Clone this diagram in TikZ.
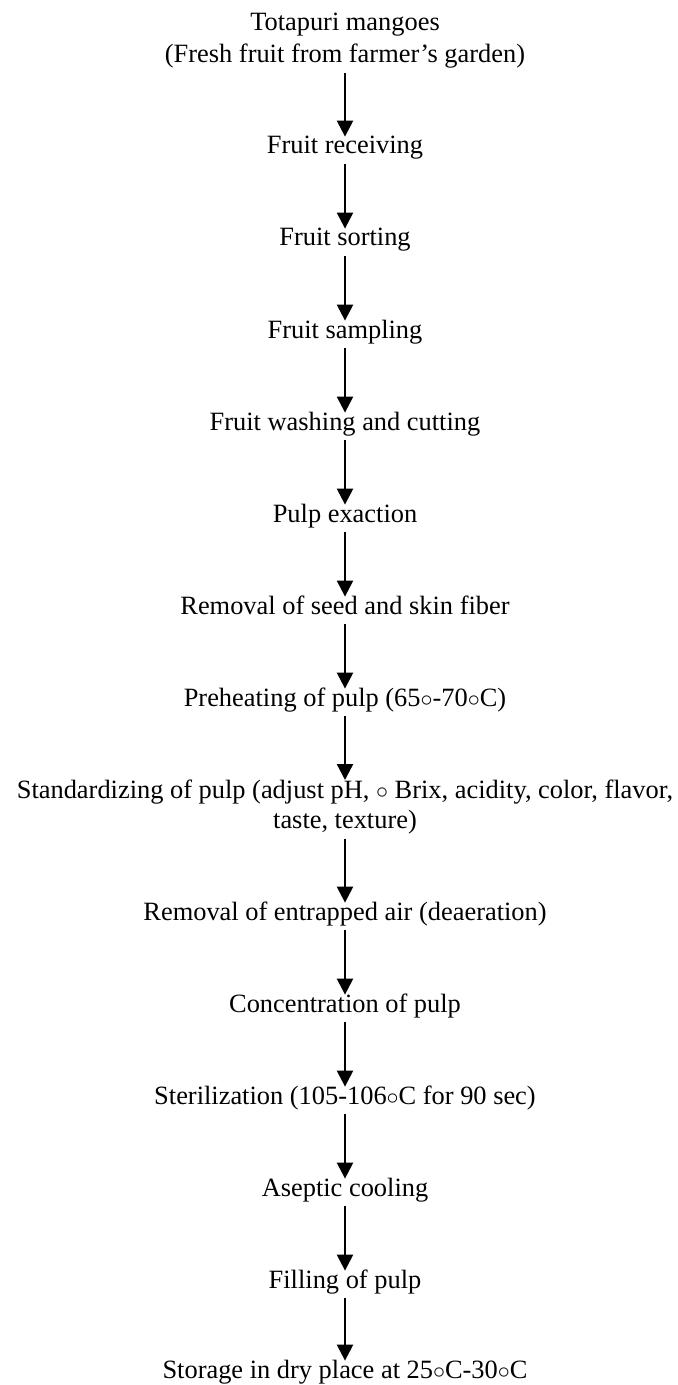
\documentclass[tikz,border=0pt]{standalone}
\usepackage{fontspec}
\setmainfont{Liberation Serif}
\usetikzlibrary{arrows.meta}

\begin{document}
\begin{tikzpicture}[x=0.5pt, y=-0.5pt,
    stage/.style={inner sep=0pt, anchor=base, text height=8.5pt, text depth=5pt, font=\fontsize{13.2}{15}\selectfont},
    stagetwo/.style={inner sep=0pt, anchor=north, align=center, font=\fontsize{13.2}{15.5}\selectfont},
    flow/.style={-{Triangle[length=8pt, width=8pt]}, line width=1.2pt}]
    \useasboundingbox (0,0) rectangle (678,1385);

    \node[stagetwo, font=\fontsize{13.2}{16}\selectfont] (mango) at (345,13) {Totapuri mangoes\\(Fresh fruit from farmer’s garden)};
    \node[stage] (receive) at (345,154) {Fruit receiving};
    \node[stage] (sort) at (345,246) {Fruit sorting};
    \node[stage] (sample) at (345,338) {Fruit sampling};
    \node[stage] (wash) at (345,430) {Fruit washing and cutting};
    \node[stage] (extract) at (345,522) {Pulp exaction};
    \node[stage] (seed) at (345,614) {Removal of seed and skin fiber};
    \node[stage] (preheat) at (345,706) {Preheating of pulp (65$\circ$-70$\circ$C)};
    \node[stagetwo, font=\fontsize{13.2}{15}\selectfont] (standard) at (345,780) {Standardizing of pulp (adjust pH, $\circ$ Brix, acidity, color, flavor,\\taste, texture)};
    \node[stage] (deair) at (345,920) {Removal of entrapped air (deaeration)};
    \node[stage] (concen) at (345,1012) {Concentration of pulp};
    \node[stage] (steril) at (345,1104) {Sterilization (105-106$\circ$C for 90 sec)};
    \node[stage] (cool) at (345,1196) {Aseptic cooling};
    \node[stage] (fill) at (345,1288) {Filling of pulp};
    \node[stage] (store) at (345,1378) {Storage in dry place at 25$\circ$C-30$\circ$C};

    \draw[flow, shorten <=2.2pt] (mango) -- (receive);
    \draw[flow] (receive) -- (sort);
    \draw[flow] (sort) -- (sample);
    \draw[flow] (sample) -- (wash);
    \draw[flow] (wash) -- (extract);
    \draw[flow] (extract) -- (seed);
    \draw[flow] (seed) -- (preheat);
    \draw[flow] (preheat) -- (standard);
    \draw[flow, shorten <=2.2pt] (standard) -- (deair);
    \draw[flow] (deair) -- (concen);
    \draw[flow] (concen) -- (steril);
    \draw[flow] (steril) -- (cool);
    \draw[flow] (cool) -- (fill);
    \draw[flow] (fill) -- (store);

\end{tikzpicture}
\end{document}
